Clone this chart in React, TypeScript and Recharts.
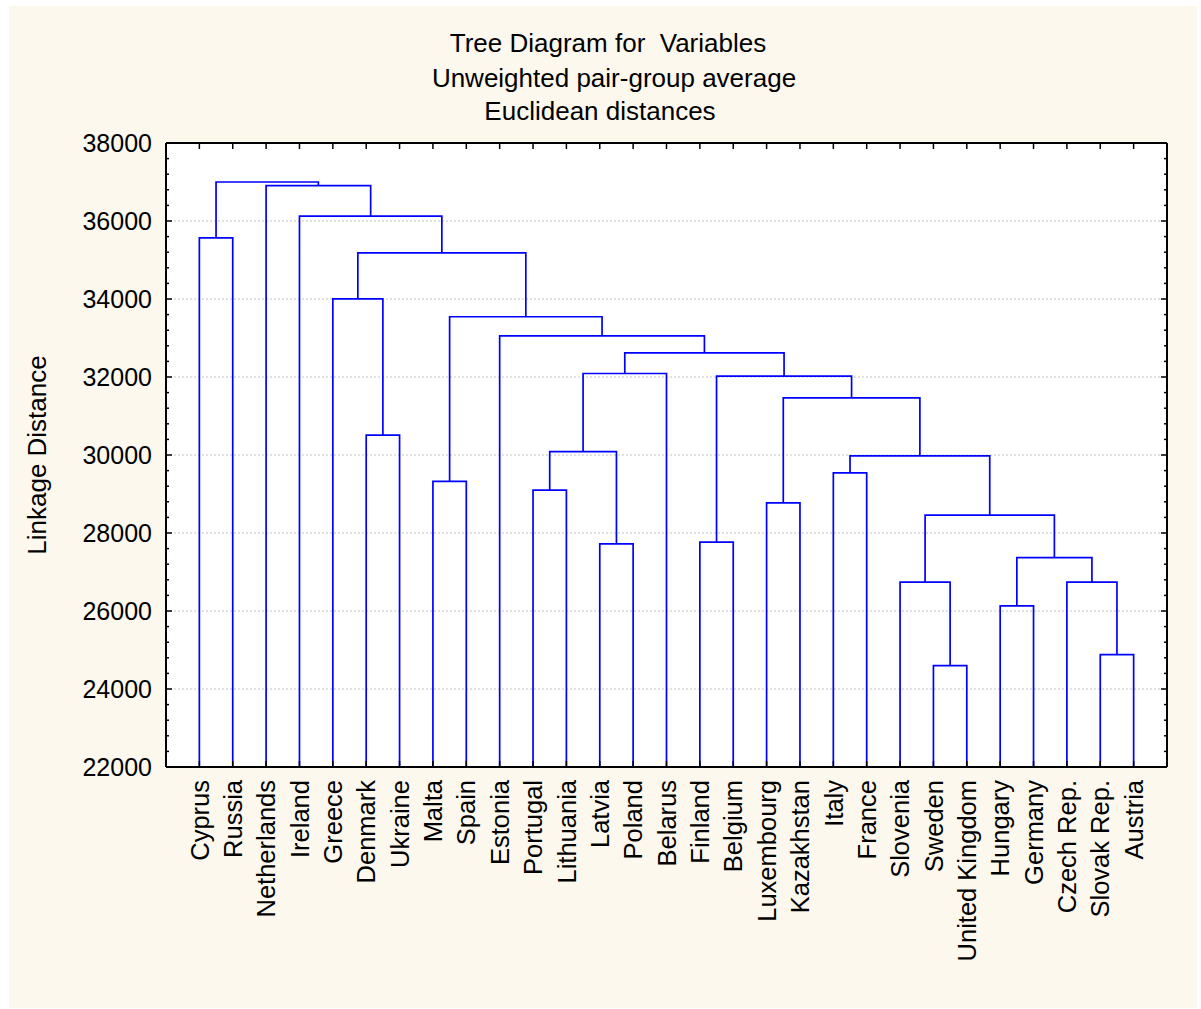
import React from "react";
import { LineChart, Line, XAxis, YAxis, CartesianGrid } from "recharts";

const FONT = "'Liberation Sans', Arial, Helvetica, sans-serif";

// leaf order along the x axis
const leaves = [
  "Cyprus", "Russia", "Netherlands", "Ireland", "Greece", "Denmark", "Ukraine",
  "Malta", "Spain", "Estonia", "Portugal", "Lithuania", "Latvia", "Poland",
  "Belarus", "Finland", "Belgium", "Luxembourg", "Kazakhstan", "Italy", "France",
  "Slovenia", "Sweden", "United Kingdom", "Hungary", "Germany", "Czech Rep.",
  "Slovak Rep.", "Austria",
];

// merges: a string is a leaf, a number refers to an earlier merge
const mergePairs: [string | number, string | number][] = [
  ["Sweden", "United Kingdom"], // 0
  ["Slovak Rep.", "Austria"], // 1
  ["Hungary", "Germany"], // 2
  ["Slovenia", 0], // 3
  ["Czech Rep.", 1], // 4
  [2, 4], // 5
  ["Latvia", "Poland"], // 6
  ["Finland", "Belgium"], // 7
  [3, 5], // 8
  ["Luxembourg", "Kazakhstan"], // 9
  ["Portugal", "Lithuania"], // 10
  ["Malta", "Spain"], // 11
  ["Italy", "France"], // 12
  [12, 8], // 13
  [10, 6], // 14
  ["Denmark", "Ukraine"], // 15
  [9, 13], // 16
  [7, 16], // 17
  [14, "Belarus"], // 18
  [18, 17], // 19
  ["Estonia", 19], // 20
  [11, 20], // 21
  ["Greece", 15], // 22
  [22, 21], // 23
  ["Cyprus", "Russia"], // 24
  ["Ireland", 23], // 25
  ["Netherlands", 25], // 26
  [24, 26], // 27
];

const mergeHeights = [
  24600, 24880, 26130, 26740, 26740, 27370, 27720, 27765, 28460, 28775,
  29100, 29325, 29540, 29980, 30085, 30510, 31465, 32020, 32090, 32620,
  33055, 33545, 34005, 35185, 35565, 36125, 36905, 37000,
];

const yMajorTicks = [22000, 24000, 26000, 28000, 30000, 32000, 34000, 36000, 38000];
const Y_MIN = 22000;
const Y_MAX = 38000;

// minor ticks: five steps between majors
const yAllTicks: number[] = [];
yMajorTicks.forEach((v, i) => {
  yAllTicks.push(v);
  if (i < yMajorTicks.length - 1) {
    const step = (yMajorTicks[i + 1] - v) / 5;
    for (let k = 1; k < 5; k++) yAllTicks.push(v + k * step);
  }
});

const leafTicks = leaves.map((_, i) => i + 1);

type Node = { x: number; h: number };
const nodes: Node[] = [];
function resolve(ref: string | number): Node {
  if (typeof ref === "string") return { x: leaves.indexOf(ref) + 1, h: Y_MIN };
  return nodes[ref];
}
const links = mergePairs.map(([a, b], i) => {
  const l = resolve(a);
  const r = resolve(b);
  const h = mergeHeights[i];
  nodes.push({ x: (l.x + r.x) / 2, h });
  return [
    { x: l.x, h: l.h },
    { x: l.x, h },
    { x: r.x, h },
    { x: r.x, h: r.h },
  ];
});

function LeftTick(props: any) {
  const { x, y, payload } = props;
  const v = payload.value;
  const major = v % 2000 === 0;
  const ax = x + 14;
  return (
    <g>
      <line x1={ax} x2={ax + (major ? 6 : 3)} y1={y} y2={y} stroke="#000" strokeWidth={1.5} />
      {major && (
        <text x={x} y={y} dy="0.36em" textAnchor="end" fontSize={25} fill="#000" fontFamily={FONT}>
          {v}
        </text>
      )}
    </g>
  );
}

function RightTick(props: any) {
  const { x, y, payload } = props;
  const major = payload.value % 2000 === 0;
  return <line x1={x} x2={x - (major ? 6 : 3)} y1={y} y2={y} stroke="#000" strokeWidth={1.5} />;
}

function TopTick(props: any) {
  const { x, y } = props;
  return <line x1={x} x2={x} y1={y} y2={y + 6} stroke="#000" strokeWidth={1.5} />;
}

function BottomTick(props: any) {
  const { x, y, payload } = props;
  const name = leaves[payload.value - 1];
  const ay = y - 13;
  return (
    <g>
      <line x1={x} x2={x} y1={ay} y2={ay - 6} stroke="#000" strokeWidth={1.5} />
      <text
        x={x}
        y={y}
        dy="0.36em"
        transform={`rotate(-90 ${x} ${y})`}
        textAnchor="end"
        fontSize={25.5}
        fill="#000"
        fontFamily={FONT}
      >
        {name}
      </text>
    </g>
  );
}

function YTitle(props: any) {
  const vb = props.viewBox || { x: 0, y: 137, width: 157, height: 624 };
  const cx = 28;
  const cy = vb.y + vb.height / 2;
  return (
    <text
      x={cx}
      y={cy}
      dy="0.36em"
      transform={`rotate(-90 ${cx} ${cy})`}
      textAnchor="middle"
      fontSize={26}
      fill="#000"
      fontFamily={FONT}
    >
      Linkage Distance
    </text>
  );
}

const titleLines = [
  { text: "Tree Diagram for  Variables", center: 599, top: 24 },
  { text: "Unweighted pair-group average", center: 605, top: 59 },
  { text: "Euclidean distances", center: 591, top: 92 },
];

export default function App() {
  return (
    <div
      style={{
        position: "absolute",
        left: 9,
        top: 6,
        width: 1188,
        height: 1002,
        background: "#fcf8ee",
        fontFamily: FONT,
      }}
    >
      {titleLines.map((t) => (
        <div
          key={t.text}
          style={{
            position: "absolute",
            left: t.center - 300,
            top: t.top,
            width: 600,
            textAlign: "center",
            fontSize: 26,
            lineHeight: "26px",
            whiteSpace: "pre",
            color: "#000",
          }}
        >
          {t.text}
        </div>
      ))}
      <LineChart
        width={1188}
        height={1002}
        margin={{ top: 136, right: 29, bottom: 41, left: 0 }}
        style={{ fontFamily: FONT }}
      >
        <CartesianGrid
          xAxisId="b"
          yAxisId="l"
          vertical={false}
          horizontalValues={yMajorTicks}
          stroke="#c4c4c4"
          strokeDasharray="2 2"
          fill="#ffffff"
          fillOpacity={1}
        />
        <XAxis
          xAxisId="b"
          type="number"
          dataKey="x"
          domain={[0, leaves.length + 1]}
          ticks={leafTicks}
          interval={0}
          allowDataOverflow
          height={200}
          tickSize={0}
          tickMargin={13}
          tickLine={false}
          axisLine={{ stroke: "#000", strokeWidth: 2 }}
          tick={<BottomTick />}
        />
        <XAxis
          xAxisId="t"
          orientation="top"
          type="number"
          dataKey="x"
          domain={[0, leaves.length + 1]}
          ticks={leafTicks}
          interval={0}
          allowDataOverflow
          height={1}
          tickSize={0}
          tickMargin={0}
          tickLine={false}
          axisLine={{ stroke: "#000", strokeWidth: 2 }}
          tick={<TopTick />}
        />
        <YAxis
          yAxisId="l"
          type="number"
          domain={[Y_MIN, Y_MAX]}
          ticks={yAllTicks}
          interval={0}
          allowDataOverflow
          width={157}
          tickSize={0}
          tickMargin={14}
          tickLine={false}
          axisLine={{ stroke: "#000", strokeWidth: 2 }}
          tick={<LeftTick />}
          label={{ content: (p: any) => <YTitle {...p} /> }}
        />
        <YAxis
          yAxisId="r"
          orientation="right"
          type="number"
          domain={[Y_MIN, Y_MAX]}
          ticks={yAllTicks}
          interval={0}
          allowDataOverflow
          width={1}
          tickSize={0}
          tickMargin={0}
          tickLine={false}
          axisLine={{ stroke: "#000", strokeWidth: 2 }}
          tick={<RightTick />}
        />
        {links.map((pts, i) => (
          <Line
            key={i}
            data={pts}
            dataKey="h"
            xAxisId="b"
            yAxisId="l"
            type="linear"
            stroke="#0000ff"
            strokeWidth={1.7}
            dot={false}
            activeDot={false}
            isAnimationActive={false}
          />
        ))}
      </LineChart>
    </div>
  );
}
